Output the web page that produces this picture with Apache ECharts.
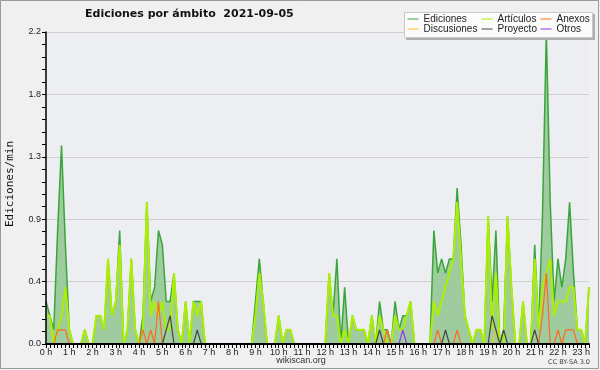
<!DOCTYPE html>
<html>
<head>
<meta charset="utf-8">
<script src="https://cdn.jsdelivr.net/npm/echarts@6/dist/echarts.min.js"></script>
<style>html,body{margin:0;padding:0;background:#f0f0f0;}#c{width:600px;height:370px;}</style>
</head>
<body>
<div id="c"></div>
<script>
// 10-minute bins from 0:00 to 23:20 (values in edits per minute)
const hourLabels = ['0 h','1 h','2 h','3 h','4 h','5 h','6 h','7 h','8 h','9 h','10 h','11 h','12 h','13 h','14 h','15 h','16 h','17 h','18 h','19 h','20 h','21 h','22 h','23 h'];
const binTimes = [];
for (let i = 0; i < 141; i++) binTimes.push(Math.floor(i / 6) + ':' + String((i % 6) * 10).padStart(2, '0'));

const ediciones = [
0.3,0.2,0.1,0.8,1.4,0.7,0.1,0,0,0,
0.1,0,0,0.2,0.2,0.1,0.6,0.2,0.3,0.8,
0,0.1,0.6,0.1,0,0.2,1.0,0.3,0.4,0.8,
0.7,0.3,0.3,0.5,0.1,0,0.3,0,0.3,0.3,
0.3,0,0,0,0,0,0,0,0,0,
0,0,0,0,0.3,0.6,0.3,0,0,0,
0.2,0,0.1,0.1,0,0,0,0,0,0,
0,0,0,0.5,0.2,0.6,0,0.4,0,0.2,
0.1,0.1,0.1,0,0.2,0,0.3,0.1,0.1,0,
0.3,0.1,0.2,0.2,0.3,0,0,0,0,0,
0.8,0.5,0.6,0.5,0.6,0.6,1.1,0.7,0.2,0.1,
0,0.1,0.1,0,0.9,0.3,0.8,0,0.1,0.9,
0.4,0,0,0.3,0,0,0.7,0.1,0.9,2.2,
1.0,0.3,0.6,0.4,0.6,1.0,0.5,0.1,0.1,0,
0.4];
const articulos = [
0.2,0.2,0,0.1,0.2,0.4,0.1,0,0,0,
0.1,0,0,0.2,0.2,0.1,0.6,0.2,0.3,0.7,
0,0.1,0.6,0.1,0,0.1,1.0,0.2,0.3,0.2,
0.3,0.1,0.1,0.5,0.1,0,0.3,0,0.3,0.2,
0.3,0,0,0,0,0,0,0,0,0,
0,0,0,0,0.2,0.5,0.3,0,0,0,
0.2,0,0.1,0.1,0,0,0,0,0,0,
0,0,0,0.5,0.2,0.2,0,0.1,0,0.2,
0.1,0.1,0.1,0,0.2,0,0.2,0.1,0,0,
0.2,0.1,0.1,0.2,0.3,0,0,0,0,0,
0.3,0.2,0.3,0.4,0.5,0.6,1.0,0.6,0.2,0.1,
0,0.1,0.1,0,0.9,0.1,0.5,0,0,0.9,
0.4,0,0,0.3,0,0,0.6,0.1,0.4,0.5,
0.6,0.2,0.3,0.3,0.3,0.4,0.4,0.1,0.1,0,
0.4];
const anexos = [
0,0,0,0.1,0.1,0.1,0,0,0,0,
0,0,0,0,0,0,0,0,0,0,
0,0,0,0,0,0.1,0,0.1,0,0.3,
0,0,0,0,0,0,0,0,0,0,
0,0,0,0,0,0,0,0,0,0,
0,0,0,0,0,0,0,0,0,0,
0,0,0,0,0,0,0,0,0,0,
0,0,0,0,0,0,0,0,0,0,
0,0,0,0,0,0,0,0,0.1,0,
0,0,0,0,0,0,0,0,0,0,
0,0.1,0,0,0,0,0.1,0,0,0,
0,0,0,0,0,0,0,0,0,0,
0,0,0,0,0,0,0,0,0.2,0.5,
0,0,0.1,0,0.1,0.1,0.1,0,0,0,
0];
const discusiones = [
0,0,0,0,0,0,0,0,0,0,
0,0,0,0,0,0,0,0,0,0,
0,0,0,0,0,0,0,0,0,0,
0,0,0,0,0,0,0,0,0,0,
0,0,0,0,0,0,0,0,0,0,
0,0,0,0,0,0,0,0,0,0,
0,0,0,0,0,0,0,0,0,0,
0,0,0,0,0,0,0,0,0,0,
0,0,0,0,0,0,0,0,0,0,
0,0,0,0,0,0,0,0,0,0,
0,0,0,0,0,0,0,0,0,0,
0,0,0,0,0,0,0.1,0,0,0,
0,0,0,0,0,0,0,0,0,0,
0,0,0,0,0,0,0,0,0,0,
0];
const proyecto = [
0,0,0,0,0,0,0,0,0,0,
0,0,0,0,0,0,0,0,0,0,
0,0,0,0,0,0,0,0,0,0,
0,0.1,0.2,0,0,0,0,0,0,0.1,
0,0,0,0,0,0,0,0,0,0,
0,0,0,0,0,0,0,0,0,0,
0,0,0,0,0,0,0,0,0,0,
0,0,0,0,0,0,0,0,0,0,
0,0,0,0,0,0,0.1,0,0,0,
0,0,0,0,0,0,0,0,0,0,
0,0,0,0.1,0,0,0,0,0,0,
0,0,0,0,0,0.2,0.1,0,0.1,0,
0,0,0,0,0,0,0.1,0,0,0,
0,0,0,0,0,0,0,0,0,0,
0];
const otros = [
0,0,0,0,0,0,0,0,0,0,
0,0,0,0,0,0,0,0,0,0,
0,0,0,0,0,0,0,0,0,0,
0,0,0,0,0,0,0,0,0,0,
0,0,0,0,0,0,0,0,0,0,
0,0,0,0,0,0,0,0,0,0,
0,0,0,0,0,0,0,0,0,0,
0,0,0,0,0,0,0,0,0,0,
0,0,0,0,0,0,0,0,0,0,
0,0,0.1,0,0,0,0,0,0,0,
0,0,0,0,0,0,0,0,0,0,
0,0,0,0,0,0,0,0,0,0,
0,0,0,0,0,0,0,0,0,0,
0,0,0,0,0,0,0,0,0,0,
0];
const yMax = 2.2, yStep = 0.44;

const chart = echarts.init(document.getElementById('c'), null, {renderer: 'canvas'});
const lbl = {fontFamily: 'Liberation Sans', fontSize: 9, color: '#222'};
const legText = {fontFamily: 'Liberation Sans', fontSize: 10, color: '#222', lineHeight: 10};
function leg(names, left) {
  return {data: names, orient: 'vertical', left: left, top: 14, itemGap: 0, itemWidth: 11, itemHeight: 9,
    padding: 0, textStyle: legText, selectedMode: false, z: 6,
    itemStyle: {opacity: 0, borderWidth: 0}, lineStyle: {width: 1}};
}
function ln(name, data, color, width, z) {
  return {name, type: 'line', data, symbol: 'none', showSymbol: false, z: z,
    lineStyle: {color, width}, itemStyle: {color}, emphasis: {disabled: true}};
}
const edSeries = ln('Ediciones', ediciones, '#3aa53a', 1.5, 2);
edSeries.areaStyle = {color: '#9fcc9f', opacity: 1};

chart.setOption({
  animation: false,
  backgroundColor: '#f0f0f0',
  title: {text: 'Ediciones por ámbito  2021-09-05', left: 85, top: 9, padding: 0,
    textStyle: {fontFamily: 'DejaVu Sans', fontWeight: 'bold', fontSize: 11, color: '#111'}},
  grid: {left: 46, right: 11, top: 32, bottom: 26, show: true, backgroundColor: '#eceef1', borderWidth: 0},
  legend: [
    leg(['Ediciones', 'Discusiones'], 407),
    leg(['Artículos', 'Proyecto'], 481),
    leg(['Anexos', 'Otros'], 540)
  ],
  xAxis: {
    type: 'category', data: binTimes, boundaryGap: false, z: 10,
    axisLine: {lineStyle: {color: '#000', width: 2}},
    axisTick: {interval: 0, length: 4, lineStyle: {color: '#000'}},
    axisLabel: Object.assign({interval: 5, margin: 4, formatter: (v, i) => hourLabels[i / 6]}, lbl),
    splitLine: {show: false}
  },
  yAxis: [
    {type: 'value', min: 0, max: yMax, interval: yStep, z: 10,
      axisLine: {show: true, lineStyle: {color: '#000', width: 1.5}},
      axisTick: {show: true, length: 4, lineStyle: {color: '#000'}},
      minorTick: {show: true, splitNumber: 5, length: 4, lineStyle: {color: '#000'}},
      axisLabel: Object.assign({margin: 5, formatter: v => v.toFixed(1)}, lbl),
      splitLine: {show: false}},
    {type: 'value', min: 0, max: yMax, interval: yStep, z: 0, position: 'left',
      axisLine: {show: false}, axisTick: {show: false}, axisLabel: {show: false},
      splitLine: {show: true, lineStyle: {color: '#cfcfcf', width: 1}}}
  ],
  graphic: [
    {type: 'rect', shape: {x: 0.5, y: 0.5, width: 598, height: 368}, style: {fill: 'none', stroke: '#9a9a9a', lineWidth: 1}, z: 20},
    {type: 'rect', shape: {x: 406, y: 14, width: 189, height: 26}, style: {fill: '#b0b0b0'}, z: 4},
    {type: 'rect', shape: {x: 404.5, y: 12.5, width: 188, height: 25}, style: {fill: 'rgba(255,255,255,0.95)', stroke: '#c8c8c8', lineWidth: 1}, z: 4},
    {type: 'text', x: 10, y: 184, rotation: Math.PI / 2,
      style: {text: 'Ediciones/min', fontFamily: 'DejaVu Sans Mono', fontSize: 11, fill: '#111', align: 'center', verticalAlign: 'middle'}},
    {type: 'text', x: 301, y: 361,
      style: {text: 'wikiscan.org', fontFamily: 'Liberation Sans', fontSize: 9, fill: '#333', align: 'center', verticalAlign: 'middle'}},
    {type: 'text', x: 590, y: 362,
      style: {text: 'CC BY-SA 3.0', fontFamily: 'DejaVu Sans', fontSize: 6.5, fill: '#444', align: 'right', verticalAlign: 'middle'}}
  ],
  series: [
    edSeries,
    ln('Artículos', articulos, '#adef00', 2, 3),
    ln('Anexos', anexos, '#ff6a1a', 1.2, 3),
    ln('Discusiones', discusiones, '#ffc020', 1.2, 3),
    ln('Proyecto', proyecto, '#444444', 1.2, 3),
    ln('Otros', otros, '#9933ee', 1.2, 3)
  ]
});
</script>
</body>
</html>
